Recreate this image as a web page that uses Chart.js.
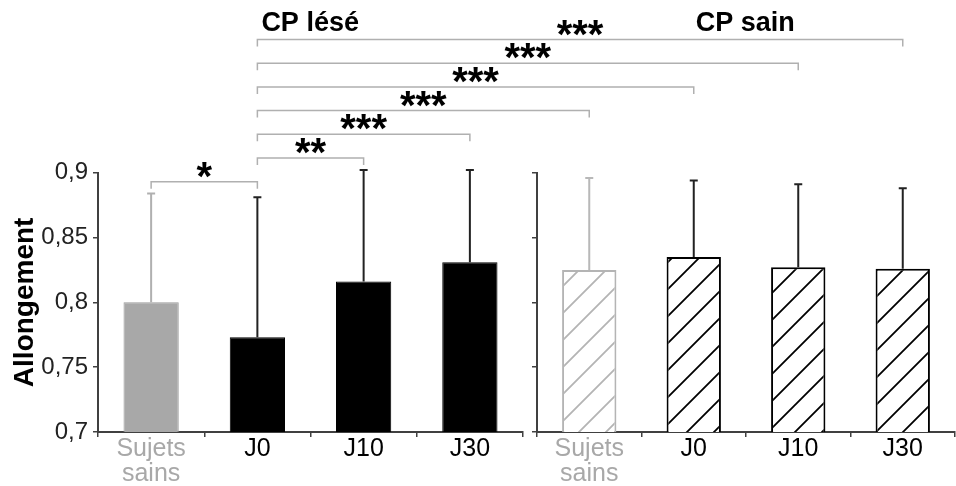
<!DOCTYPE html>
<html>
<head>
<meta charset="utf-8" />
<script src="https://cdn.jsdelivr.net/npm/chart.js@4.4.1/dist/chart.umd.min.js"></script>
<style>
  body { margin:0; background:#fff; overflow:hidden; }
  #wrap { position:relative; width:956px; height:486px; }
  #wrap canvas { position:absolute; top:0; }
  #lese { left:0; }
  #sain { left:525px; }
  #marks { left:0; pointer-events:none; }
</style>
</head>
<body>
<div id="wrap">
  <canvas id="lese" width="530" height="486"></canvas>
  <canvas id="sain" width="431" height="486"></canvas>
  <canvas id="marks" width="956" height="486"></canvas>
</div>
<script>
// data
const groups = [['Sujets', 'sains'], 'J0', 'J10', 'J30'];
const leseMean = [0.800, 0.773, 0.816, 0.831];
const leseSD   = [0.084, 0.108, 0.086, 0.071];
const sainMean = [0.825, 0.835, 0.827, 0.826];
const sainSD   = [0.071, 0.059, 0.064, 0.062];
const yTicks = [0.7, 0.75, 0.8, 0.85, 0.9];
const panelTitles = ['CP lésé', 'CP sain'];
// significance: from [panel, bar] to [panel, bar], stars (bottom bracket first)
const comparisons = [
  [['L', 0], ['L', 1], '*'],
  [['L', 1], ['L', 2], '**'],
  [['L', 1], ['L', 3], '***'],
  [['L', 1], ['R', 0], '***'],
  [['L', 1], ['R', 1], '***'],
  [['L', 1], ['R', 2], '***'],
  [['L', 1], ['R', 3], '***'],
];

const FONT = '"Liberation Sans", Arial, sans-serif';
const GRAY = '#a8a8a8';
const AXIS = '#404040';
const labelColors = [GRAY, '#000', '#000', '#000'];

function hatch(target, color) {
  const c = document.createElement('canvas');
  c.width = c.height = 27;
  const g = c.getContext('2d');
  g.fillStyle = '#fff'; g.fillRect(0, 0, 27, 27);
  g.strokeStyle = color; g.lineWidth = 1.8;
  g.beginPath();
  g.moveTo(-2, 29); g.lineTo(29, -2);
  g.moveTo(-2, 2); g.lineTo(2, -2);
  g.moveTo(25, 29); g.lineTo(29, 25);
  g.stroke();
  return target.getContext('2d').createPattern(c, 'repeat');
}

const errorBars = {
  id: 'errorBars',
  afterDatasetsDraw(chart) {
    const {ctx, scales: {y}} = chart;
    const ds = chart.data.datasets[0];
    ctx.save();
    ctx.lineWidth = 2;
    chart.getDatasetMeta(0).data.forEach((bar, i) => {
      const top = y.getPixelForValue(ds.data[i] + ds.sd[i]);
      ctx.strokeStyle = ds.errColor[i];
      ctx.beginPath();
      ctx.moveTo(bar.x, bar.y); ctx.lineTo(bar.x, top);
      ctx.moveTo(bar.x - 4, top); ctx.lineTo(bar.x + 4, top);
      ctx.stroke();
    });
    ctx.restore();
  }
};

function makeChart(el, dataset, showLabels, rightPad) {
  return new Chart(el, {
    type: 'bar',
    data: { labels: groups, datasets: [dataset] },
    options: {
      responsive: false, animation: false,
      layout: { padding: { top: 172.7, right: rightPad, left: 0, bottom: 0 } },
      plugins: { legend: { display: false }, tooltip: { enabled: false } },
      datasets: { bar: { categoryPercentage: 1, barPercentage: 0.52 } },
      scales: {
        x: {
          grid: { offset: true, drawOnChartArea: false, drawTicks: true, tickLength: 5, color: AXIS, lineWidth: 1.5 },
          border: { color: AXIS, width: 2 },
          ticks: { font: { family: FONT, size: 25, lineHeight: 1.02 }, color: c => labelColors[c.index], padding: -1, maxRotation: 0 },
          afterFit: s => { s.height = 54; }
        },
        y: {
          min: 0.7, max: 0.9,
          afterBuildTicks: s => { s.ticks = yTicks.map(v => ({ value: v })); },
          grid: { drawOnChartArea: false, drawTicks: true, tickLength: 5, color: AXIS, lineWidth: 1.5 },
          border: { color: AXIS, width: 2 },
          ticks: {
            display: true,
            font: { family: FONT, size: 24 }, color: '#222', padding: 5,
            callback: v => showLabels ? String(+v.toFixed(2)).replace('.', ',') : ''
          },
          title: showLabels ? { display: true, text: 'Allongement', font: { family: FONT, size: 28, weight: 'bold' }, color: '#000', padding: { top: 8, bottom: 0 } } : { display: false },
          afterFit: s => { s.width = showLabels ? 98 : 12; }
        }
      }
    },
    plugins: [errorBars]
  });
}

const leseEl = document.getElementById('lese');
const sainEl = document.getElementById('sain');

const leseChart = makeChart(leseEl, {
  data: leseMean, sd: leseSD,
  backgroundColor: [GRAY, '#000', '#000', '#000'],
  borderColor: ['#9a9a9a', '#000', '#000', '#000'], borderWidth: 1,
  errColor: ['#b0b0b0', '#222', '#222', '#222']
}, true, 7);

const sainChart = makeChart(sainEl, {
  data: sainMean, sd: sainSD,
  backgroundColor: [hatch(sainEl, '#b4b4b4'), hatch(sainEl, '#000'), hatch(sainEl, '#000'), hatch(sainEl, '#000')],
  borderColor: ['#b4b4b4', '#000', '#000', '#000'], borderWidth: 2, borderSkipped: false,
  errColor: ['#b8b8b8', '#222', '#222', '#222']
}, false, 1);

// brackets, stars and panel headings spanning both charts
function drawMarks() {
  const ctx = document.getElementById('marks').getContext('2d');
  const panels = { L: { chart: leseChart, dx: 0 }, R: { chart: sainChart, dx: 525 } };
  const px = ([p, i]) => panels[p].dx + panels[p].chart.getDatasetMeta(0).data[i].x;

  ctx.font = 'bold 27px ' + FONT;
  ctx.fillStyle = '#000';
  ctx.textAlign = 'left';
  ctx.textBaseline = 'alphabetic';
  ctx.fillText(panelTitles[0], px(['L', 1]) + 4, 31);
  ctx.fillText(panelTitles[1], px(['R', 1]) + 2, 31);

  comparisons.forEach(([a, b, stars], k) => {
    const y = 181.7 - k * 23.7;
    const x1 = px(a), x2 = px(b);
    ctx.strokeStyle = '#b0b0b0';
    ctx.lineWidth = 1.5;
    ctx.beginPath();
    ctx.moveTo(x1, y + 7); ctx.lineTo(x1, y); ctx.lineTo(x2, y); ctx.lineTo(x2, y + 7);
    ctx.stroke();
    ctx.font = 'bold 40px ' + FONT;
    ctx.textAlign = 'center';
    ctx.fillText(stars, (x1 + x2) / 2, y + 8);
  });
}
drawMarks();
</script>
</body>
</html>
